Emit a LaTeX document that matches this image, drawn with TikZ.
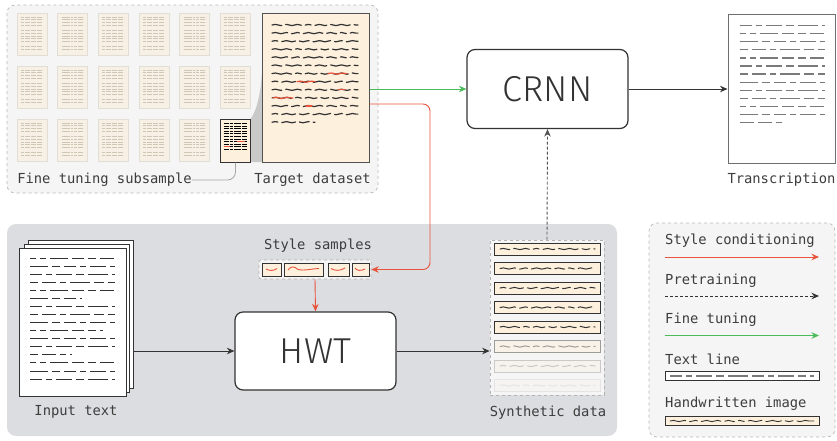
\documentclass[tikz,border=0pt]{standalone}
\usepackage{fontspec}
\usetikzlibrary{arrows.meta,decorations.pathmorphing}
\newfontfamily\labfont{DejaVu Sans Mono}
\newfontfamily\bigsans{Fira Sans Light}
\definecolor{redc}{HTML}{E8533C}
\definecolor{greenc}{HTML}{4CBB5C}
\definecolor{ink}{HTML}{333333}
\definecolor{beige}{HTML}{FDF0DC}
\definecolor{thumb}{HTML}{F7F0E4}
\definecolor{panel}{HTML}{F5F5F5}
\definecolor{region}{HTML}{DCDDE0}
\definecolor{thumbedge}{HTML}{E2DDD5}
\definecolor{thumbtxt}{HTML}{D0C6B6}
\definecolor{wedge}{HTML}{C9C9C9}
\definecolor{transl}{HTML}{7A7A7A}
\newcommand\thumbdoc[2]{%
  \draw[thumbedge, line width=0.8pt, fill=thumb] (#1,#2) rectangle ++(30,42);
  \foreach \k in {0,1,2,3,5,6,7,8,9,11,12}{%
    \draw[thumbtxt, line width=0.55pt, dash pattern=on 3pt off 0.8pt on 5pt off 0.8pt on 2pt off 0.8pt]
      ({#1+4},{#2+4+\k*2.7}) -- ({#1+26},{#2+4+\k*2.7});}%
}
\tikzset{
  lab/.style={font=\labfont\fontsize{13.8}{16}\selectfont, text=ink!95, inner sep=0pt},
  bigbox/.style={draw=ink, line width=1.2pt, rounded corners=8pt, fill=white,
    font=\bigsans\fontsize{36}{40}\selectfont, text=ink, inner sep=0pt},
  arr/.style={-{Stealth[length=7.5pt,width=6.5pt]}, line width=0.9pt},
  scrib/.style={decorate, decoration={snake, amplitude=0.6pt, segment length=11pt},
    line width=1.2pt, line cap=round},
  hw0/.style={dash pattern=on 10pt off 4pt on 16pt off 4pt on 6pt off 4pt on 12pt off 4pt on 20pt off 4pt on 8pt off 4pt},
  hw1/.style={dash pattern=on 16pt off 4pt on 8pt off 4pt on 20pt off 4pt on 10pt off 4pt on 6pt off 4pt on 14pt off 4pt},
  hw2/.style={dash pattern=on 6pt off 4pt on 14pt off 4pt on 10pt off 4pt on 18pt off 4pt on 8pt off 4pt on 12pt off 4pt},
  hw3/.style={dash pattern=on 20pt off 4pt on 6pt off 4pt on 12pt off 4pt on 8pt off 4pt on 16pt off 4pt on 10pt off 4pt},
  tx0/.style={dash pattern=on 12pt off 4pt on 6pt off 4pt on 16pt off 4pt on 8pt off 4pt on 20pt off 4pt},
  tx1/.style={dash pattern=on 6pt off 4pt on 6pt off 4pt on 18pt off 4pt on 12pt off 4pt on 8pt off 4pt on 14pt off 4pt},
  tx2/.style={dash pattern=on 18pt off 4pt on 8pt off 4pt on 12pt off 4pt on 6pt off 4pt on 16pt off 4pt},
  tx3/.style={dash pattern=on 8pt off 4pt on 14pt off 4pt on 6pt off 4pt on 20pt off 4pt on 10pt off 4pt},
  hwline/.style={draw=ink, line width=1pt, fill=beige, inner sep=0pt},
}
\begin{document}
\begin{tikzpicture}[x=1pt,y=-1pt]
\useasboundingbox (0,0) rectangle (837,440);

% ---------- top panel ----------
\draw[gray!55, dashed, fill=panel, rounded corners=8pt, line width=0.7pt] (7,5) rectangle (378,193);
\foreach \xx in {17,57.5,98,139,179.5,220}{
  \foreach \yy in {13,66}{\thumbdoc{\xx}{\yy}}}
\foreach \xx in {17,57.5,98,139,179.5}{\thumbdoc{\xx}{119}}

% wedge
\fill[wedge] (250.5,119) .. controls (256,112) and (261,95) .. (262,70) -- (262,162) -- (250.5,162) -- cycle;

% mini document
\node[draw=ink, line width=1pt, fill=beige, minimum width=30pt, minimum height=43pt, inner sep=0pt] (mini) at (235.5,140.5) {};
\foreach \k in {0,...,10}{
  \draw[black, line width=0.9pt, dash pattern=on 5pt off 1.2pt on 3pt off 1.2pt on 7pt off 1.2pt]
    (223.5,{123.5+\k*2.6}) -- (247.5,{123.5+\k*2.6});}
\draw[redc, line width=1pt] (237,141.7) -- (245,141.7);
\draw[redc, line width=1pt] (224,146.9) -- (230,146.9);

% target dataset
\node[draw=ink!85, line width=1pt, fill=beige, minimum width=107pt, minimum height=149pt, inner sep=0pt] (target) at (315.5,87.5) {};
\foreach \i/\st in {0/hw0,1/hw1,2/hw2,3/hw3,4/hw1,5/hw0,6/hw3,7/hw2,8/hw0,9/hw3,10/hw1,11/hw2}{
  \draw[scrib, ink, \st] (272,{25+\i*8.1}) -- (358,{25+\i*8.1});}
\draw[scrib, ink, hw2] (272,122.2) -- (315,122.2);
\draw[scrib, redc] (328,73.6) -- (347,73.6);
\draw[scrib, redc] (297,81.7) -- (315,81.7);
\draw[redc, line width=1.2pt, line cap=round] (338,89.8) -- (345,89.8);
\draw[scrib, redc] (273,97.9) -- (293,97.9);
\draw[redc, line width=1.2pt, line cap=round] (306,106) -- (312,106);

\node[lab] (lft) at (104.5,180) {Fine tuning subsample};
\node[lab] (ltd) at (312.5,180) {Target dataset};
\draw[gray!70, line width=0.8pt, rounded corners=8pt] (lft.east) -| (mini.south);

% ---------- CRNN and transcription ----------
\node[bigbox, minimum width=161pt, minimum height=79pt] (crnn) at (547.5,89) {CRNN};
\node[draw=transl!90!black, line width=1pt, fill=white, minimum width=107pt, minimum height=149pt, inner sep=0pt] (trans) at (781.5,89) {};
\foreach \i/\st in {0/tx0,1/tx1,2/tx2,3/tx3,4/tx1,5/tx0,6/tx3,7/tx2,8/tx0,9/tx3,10/tx1,11/tx2}{
  \draw[transl, line width=1.3pt, \st] (740,{25.5+\i*8.1}) -- (825,{25.5+\i*8.1});}
\draw[transl, line width=1.3pt, dash pattern=on 14pt off 4pt] (740,122.7) -- (782,122.7);
\node[lab] (ltr) at (781.5,180) {Transcription};

\draw[arr, greenc] (target.east |- crnn.west) -- (crnn.west);
\draw[arr, ink] (crnn.east) -- (trans.west);

% ---------- bottom region ----------
\fill[region, rounded corners=9pt] (7,224) rectangle (617,436);

% input text stack
\node[draw=ink, line width=1pt, fill=white, minimum width=105pt, minimum height=148pt, inner sep=0pt] (inp3) at (80.5,314) {};
\node[draw=ink, line width=1pt, fill=white, minimum width=105pt, minimum height=148pt, inner sep=0pt] (inp2) at (76.5,318) {};
\node[draw=ink, line width=1pt, fill=white, minimum width=107pt, minimum height=148pt, inner sep=0pt] (inp) at (72.5,322) {};
\foreach \i/\xe/\st in {0/115/tx1,1/115/tx2,2/115/tx0,3/115/tx3,4/115/tx1,5/82/tx2,6/115/tx0,7/115/tx3,8/115/tx2,9/103/tx1,10/115/tx2,11/115/tx0,12/72/tx3,13/115/tx1,14/115/tx2,15/115/tx0}{
  \draw[ink, line width=1pt, \st] (30,{258.3+\i*8.05}) -- (\xe,{258.3+\i*8.05});}
\node[lab] (lin) at (76,412) {Input text};

% style samples
\node[lab] (lss) at (318,245.5) {Style samples};
\node[draw=gray!60, dashed, line width=0.7pt, fill=panel, rounded corners=2pt, minimum width=112pt, minimum height=19pt, inner sep=0pt] (ss) at (315,269.5) {};
\node[hwline, minimum width=19pt, minimum height=13pt] (s1) at (271.5,269.5) {};
\node[hwline, minimum width=39pt, minimum height=13pt] (s2) at (303.5,269.5) {};
\node[hwline, minimum width=21pt, minimum height=13pt] (s3) at (338.5,269.5) {};
\node[hwline, minimum width=17pt, minimum height=13pt] (s4) at (360.5,269.5) {};
\draw[redc, line width=0.9pt] (266,269) .. controls (270,271) and (273,271) .. (277,268.5);
\draw[redc, line width=0.9pt] (288,270) .. controls (291,266) and (294,266) .. (298,269.5) .. controls (304,271) and (310,269) .. (319,268.5);
\draw[redc, line width=0.9pt] (331,268.5) .. controls (335,271) and (340,271) .. (345,268);
\draw[redc, line width=0.9pt] (355,268) .. controls (357,271) and (361,271) .. (365,269);

% HWT
\node[bigbox, minimum width=161pt, minimum height=78pt] (hwt) at (315.5,351) {HWT};

% synthetic data
\node[draw=gray!60, dashed, line width=0.7pt, fill=panel, minimum width=114pt, minimum height=155pt, inner sep=0pt] (syn) at (547,317.5) {};
\foreach \i/\op/\st in {0/1/hw0,1/1/hw1,2/1/hw2,3/1/hw1,4/1/hw3,5/0.45/hw0,6/0.22/hw2,7/0.08/hw3}{
  \begin{scope}[opacity=\op]
  \node[hwline, minimum width=106pt, minimum height=12pt] (syn\i) at (547.5,{249+\i*19.5}) {};
  \draw[scrib, ink, line width=1pt, \st] (500,{249+\i*19.5}) -- (595,{249+\i*19.5});
  \end{scope}}
\node[lab] (lsy) at (548,413) {Synthetic data};

% connectors bottom
\draw[arr, ink] (inp3.east |- hwt.west) -- (hwt.west);
\draw[arr, ink] (hwt.east) -- (syn.west |- hwt.east);
\draw[arr, redc] (ss.south) -- (hwt.north);
\coordinate (r0) at (369,104);
\coordinate (r1) at (430,104);
\draw[arr, redc, rounded corners=7pt] (r0) -- (r1) |- (ss.east);
\draw[arr, ink!85, dash pattern=on 3pt off 2pt] (syn.north) -- (crnn.south);

% ---------- legend ----------
\node[draw=gray!55, dashed, line width=0.7pt, fill=panel, rounded corners=8pt, minimum width=186pt, minimum height=214pt, inner sep=0pt] (leg) at (742,330) {};
\node[lab, anchor=west] (lg1) at (665,241) {Style conditioning};
\coordinate (a1) at (665,257); \coordinate (b1) at (819,257);
\draw[arr, redc] (a1) -- (b1);
\node[lab, anchor=west] (lg2) at (665,280.5) {Pretraining};
\coordinate (a2) at (665,296); \coordinate (b2) at (819,296);
\draw[arr, ink, dash pattern=on 3pt off 2pt] (a2) -- (b2);
\node[lab, anchor=west] (lg3) at (665,320) {Fine tuning};
\coordinate (a3) at (665,335.5); \coordinate (b3) at (819,335.5);
\draw[arr, greenc] (a3) -- (b3);
\node[lab, anchor=west] (lg4) at (665,359.5) {Text line};
\node[draw=ink, line width=0.9pt, fill=white, minimum width=154pt, minimum height=8.5pt, inner sep=0pt] (ltl) at (742,376) {};
\draw[transl, line width=1.4pt, tx0] (670,376) -- (814,376);
\node[lab, anchor=west] (lg5) at (665,404) {Handwritten image};
\node[hwline, line width=0.9pt, minimum width=154pt, minimum height=8.5pt] (lhw) at (742,421) {};
\draw[scrib, ink, line width=0.9pt, hw1] (670,421) -- (814,421);

\end{tikzpicture}
\end{document}
